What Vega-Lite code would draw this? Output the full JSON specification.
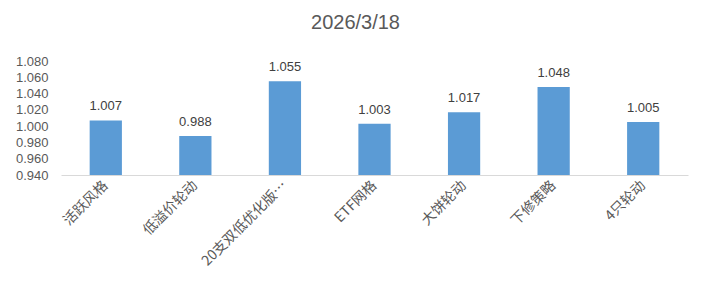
{
  "$schema": "https://vega.github.io/schema/vega-lite/v6.json",
  "autosize": "none",
  "width": 627,
  "height": 114,
  "padding": {"left": 61, "top": 61, "right": 18, "bottom": 108},
  "background": "white",
  "title": {"text": "2026/3/18", "fontSize": 20, "font": "Liberation Sans", "fontWeight": "normal", "color": "#595959", "offset": 22, "anchor": "middle", "dx": -19},
  "data": {"values": [
    {"name": "活跃风格", "value": 1.007},
    {"name": "低溢价轮动", "value": 0.988},
    {"name": "20支双低优化版…", "value": 1.055},
    {"name": "ETF网格", "value": 1.003},
    {"name": "大饼轮动", "value": 1.017},
    {"name": "下修策略", "value": 1.048},
    {"name": "4只轮动", "value": 1.005}
  ]},
  "encoding": {
    "x": {"field": "name", "type": "nominal", "sort": null,
      "scale": {"paddingInner": 0.64, "paddingOuter": 0.32},
      "axis": {"title": null, "labelAngle": -45, "labelAlign": "right", "labelBaseline": "middle", "labelFontSize": 14, "labelColor": "#595959", "labelFont": "Noto Sans CJK SC", "ticks": false, "domainColor": "#d9d9d9", "labelPadding": 8, "labelLimit": 200}},
    "y": {"field": "value", "type": "quantitative",
      "scale": {"domain": [0.94, 1.08], "zero": false, "nice": false},
      "axis": {"title": null, "values": [0.94, 0.96, 0.98, 1.0, 1.02, 1.04, 1.06, 1.08], "format": ".3f", "grid": false, "domain": false, "ticks": false, "labelFontSize": 13, "labelColor": "#595959", "labelFont": "Liberation Sans", "labelPadding": 13}}
  },
  "layer": [
    {"mark": {"type": "bar", "color": "#5B9BD5", "clip": true}, "encoding": {"y2": {"datum": 0.94}}},
    {"mark": {"type": "text", "dy": -14, "fontSize": 13, "font": "Liberation Sans", "color": "#404040"},
      "encoding": {"text": {"field": "value", "type": "quantitative", "format": ".3f"}}}
  ],
  "config": {"view": {"stroke": null}}
}
